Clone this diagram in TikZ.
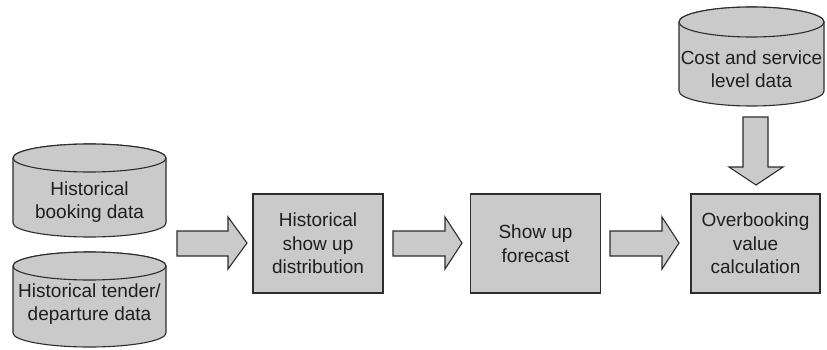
\documentclass[tikz,border=0pt]{standalone}
\usepackage{fontspec}
\setmainfont{Liberation Sans}
\begin{document}
\begin{tikzpicture}[x=1pt,y=1pt,
  shp/.style={fill=shapegray, draw=linegray, line width=1.1pt},
  lbl/.style={text=textgray, align=center, font=\fontsize{19}{23.5}\selectfont, inner sep=0pt},
  boxnode/.style={shp, minimum width=130pt, minimum height=99pt, inner sep=0pt}]
\definecolor{shapegray}{RGB}{202,202,202}
\definecolor{linegray}{RGB}{45,45,45}
\definecolor{textgray}{RGB}{30,30,30}
\useasboundingbox (0,0) rectangle (827,349);
% cylinders: x1 x2 ytopcenter ybotcenter rx ry
\newcommand\mycyl[6]{%
  \filldraw[shp] (#1,#3) -- (#1,#4) arc[start angle=180,end angle=360,x radius=#5pt,y radius=#6pt]
    -- (#2,#3) arc[start angle=0,end angle=180,x radius=#5pt,y radius=#6pt] -- cycle;
  \draw[shp] ({(#1+#2)/2},#3) ellipse[x radius=#5pt,y radius=#6pt];}
\mycyl{13}{166}{191}{126}{76.5}{14}
\mycyl{13}{166}{83}{16}{76.5}{14}
\mycyl{679}{824}{327}{258}{72.5}{15}
\node[lbl] (hb) at (89.5,147) {Historical\\booking data};
\node[lbl] (ht) at (89.5,45) {Historical tender/\\departure data};
\node[lbl] (cs) at (751.5,280) {Cost and service\\level data};
% boxes
\node[boxnode] (hsd) at (318,105.5) {};
\node[lbl] at (hsd.center) {Historical\\show up\\distribution};
\node[boxnode] (suf) at (535.5,105.5) {};
\node[lbl] at (suf.center) {Show up\\forecast};
\node[boxnode, minimum width=129pt] (ovc) at (755.5,105.5) {};
\node[lbl] at (ovc.center) {Overbooking\\value\\calculation};
% block arrows
\newcommand\rarrow[3]{%
  \filldraw[shp, line join=miter] (#1,118) -- (#2,118) -- (#2,132) -- (#3,106) -- (#2,80) -- (#2,93) -- (#1,93) -- cycle;}
\rarrow{177}{228}{247}
\rarrow{393}{445}{462}
\rarrow{610}{662}{679}
\filldraw[shp, line join=miter] (743,232) -- (743,182) -- (729,182) -- (756,164) -- (783,182) -- (768,182) -- (768,232) -- cycle;
\end{tikzpicture}
\end{document}
